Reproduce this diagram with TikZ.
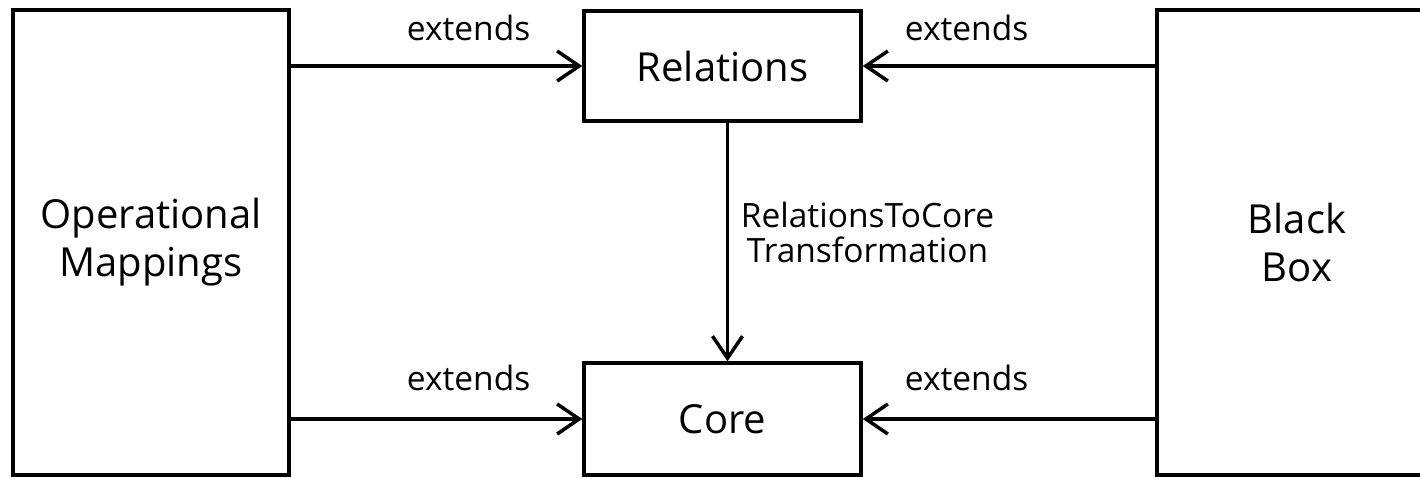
\documentclass[tikz,border=0pt]{standalone}
\usepackage{fontspec}
\setmainfont{Open Sans}
\usetikzlibrary{arrows.meta}
\begin{document}
\begin{tikzpicture}[x=1pt,y=-1pt,
  box/.style={draw, line width=3.5pt, rectangle, inner sep=0pt, align=center,
    font=\fontsize{40}{48}\selectfont},
  lbl/.style={font=\fontsize{33.5}{35}\selectfont, align=center, inner sep=0pt},
  arr/.style={line width=3.5pt, -{Straight Barb[length=22pt,width=30pt,line width=3.5pt]}}]
\path[use as bounding box] (0,0) rectangle (1420,477);
\clip (0,0) rectangle (1420,477);
\node[box, minimum width=276pt, minimum height=465pt] (om) at (151,242.5) {Operational\\Mappings};
\node[box, minimum width=277pt, minimum height=110pt] (rel) at (722.5,66) {Relations};
\node[box, minimum width=277pt, minimum height=112pt] (core) at (722.5,419) {Core};
\node[box, minimum width=280pt, minimum height=465pt] (bb) at (1297,242.5) {Black\\Box};
\draw[arr] (om.east |- rel.west) -- node[lbl, pos=0.61, yshift=38pt] (l1) {extends} (rel.west);
\draw[arr] (bb.west |- rel.east) -- node[lbl, pos=0.645, yshift=38pt] (l2) {extends} (rel.east);
\draw[arr] (om.east |- core.west) -- node[lbl, pos=0.61, yshift=41pt] (l3) {extends} (core.west);
\draw[arr] (bb.west |- core.east) -- node[lbl, pos=0.645, yshift=41pt] (l4) {extends} (core.east);
\draw[arr] ([xshift=5pt]rel.south) -- node[lbl, pos=0.46, xshift=140pt] (l5) {RelationsToCore\\Transformation} ([xshift=5pt]core.north);
\end{tikzpicture}
\end{document}
